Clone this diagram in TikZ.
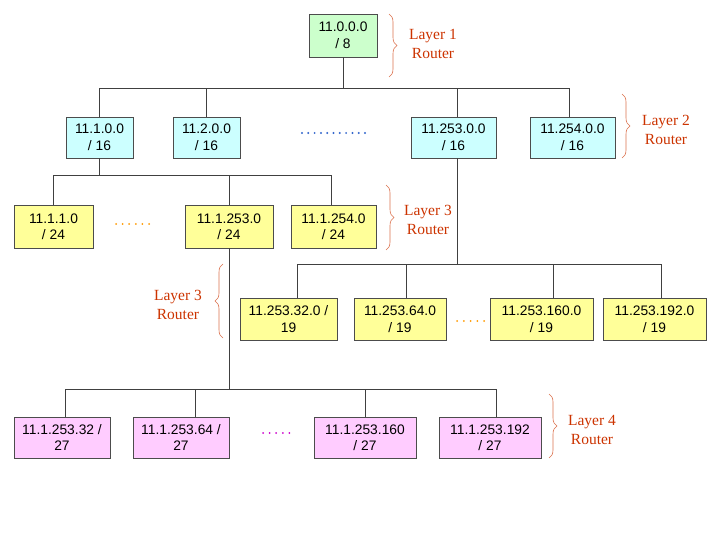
\documentclass[tikz,border=0pt]{standalone}
\usepackage{fontspec}
\setmainfont{Liberation Sans}
\newfontfamily\layerfont{Liberation Serif}
\usetikzlibrary{decorations.pathreplacing}

\definecolor{rootgreen}{RGB}{204,255,204}
\definecolor{netcyan}{RGB}{204,255,255}
\definecolor{subyellow}{RGB}{255,255,153}
\definecolor{hostpink}{RGB}{255,204,255}
\definecolor{layerred}{RGB}{204,51,0}
\definecolor{dotblue}{RGB}{51,102,204}
\definecolor{dotorange}{RGB}{255,153,0}
\definecolor{dotpink}{RGB}{204,0,204}

\tikzset{
  netbox/.style={draw=black!70, line width=0.6pt, align=center, inner sep=1pt,
    font=\fontsize{13.8}{16.5}\selectfont},
  wire/.style={draw=black!75, line width=0.6pt},
  layerbrace/.style={draw=layerred!70, line width=0.6pt, decorate,
    decoration={brace, amplitude=8pt}},
  layertext/.style={text=layerred, align=center,
    font=\layerfont\fontsize{15.5}{18.5}\selectfont}
}

\begin{document}
\begin{tikzpicture}[x=1pt, y=-1pt]
    \useasboundingbox (0,0) rectangle (720,540);

    % layer 1
    \node[netbox, fill=rootgreen, minimum width=68pt, minimum height=43pt] (root) at (343,35.5) {11.0.0.0\\/ 8};

    % layer 2
    \node[netbox, fill=netcyan, minimum width=67pt, minimum height=41pt] (net1) at (99.5,137.5) {11.1.0.0\\/ 16};
    \node[netbox, fill=netcyan, minimum width=67pt, minimum height=41pt] (net2) at (206.5,137.5) {11.2.0.0\\/ 16};
    \node[netbox, fill=netcyan, minimum width=85pt, minimum height=41pt] (net253) at (453.5,137.5) {11.253.0.0\\/ 16};
    \node[netbox, fill=netcyan, minimum width=85pt, minimum height=41pt] (net254) at (572.5,137.5) {11.254.0.0\\/ 16};
    \foreach \i in {0,...,10}
        \fill[dotblue] (302+6.3*\i,133) circle (1.1pt);

    % layer 3 under 11.1.0.0
    \node[netbox, fill=subyellow, minimum width=79pt, minimum height=43pt] (net1x1) at (53.5,226.5) {11.1.1.0\\/ 24};
    \node[netbox, fill=subyellow, minimum width=88pt, minimum height=43pt] (net1x253) at (229,226.5) {11.1.253.0\\/ 24};
    \node[netbox, fill=subyellow, minimum width=85pt, minimum height=43pt] (net1x254) at (333.5,226.5) {11.1.254.0\\/ 24};
    \foreach \i in {0,...,5}
        \fill[dotorange] (116+6.6*\i,224) circle (1pt);

    % layer 3 under 11.253.0.0
    \node[netbox, fill=subyellow, minimum width=97pt, minimum height=42pt] (sub32) at (288.5,319) {11.253.32.0 /\\19};
    \node[netbox, fill=subyellow, minimum width=92pt, minimum height=42pt] (sub64) at (400,319) {11.253.64.0\\/ 19};
    \node[netbox, fill=subyellow, minimum width=103pt, minimum height=42pt] (sub160) at (541.5,319) {11.253.160.0\\/ 19};
    \node[netbox, fill=subyellow, minimum width=103pt, minimum height=42pt] (sub192) at (654.5,319) {11.253.192.0\\/ 19};
    \foreach \i in {0,...,4}
        \fill[dotorange] (457+6.8*\i,321) circle (1pt);

    % layer 4
    \node[netbox, fill=hostpink, minimum width=96pt, minimum height=41pt] (host32) at (62,437.5) {11.1.253.32 /\\27};
    \node[netbox, fill=hostpink, minimum width=96pt, minimum height=41pt] (host64) at (181,437.5) {11.1.253.64 /\\27};
    \node[netbox, fill=hostpink, minimum width=102pt, minimum height=41pt] (host160) at (365,437.5) {11.1.253.160\\/ 27};
    \node[netbox, fill=hostpink, minimum width=102pt, minimum height=41pt] (host192) at (490,437.5) {11.1.253.192\\/ 27};
    \foreach \i in {0,...,4}
        \fill[dotpink] (263+6.6*\i,433) circle (1pt);

    % wire ends that sit off the box centres
    \coordinate (in253) at ([xshift=3.5pt]net253.north);
    \coordinate (out253) at ([xshift=3.5pt]net253.south);
    \coordinate (in254) at ([xshift=-3.5pt]net254.north);
    \coordinate (in1x254) at ([xshift=-2.5pt]net1x254.north);
    \coordinate (in32) at ([xshift=8.5pt]sub32.north);
    \coordinate (in64) at ([xshift=6pt]sub64.north);
    \coordinate (in160) at ([xshift=11.5pt]sub160.north);
    \coordinate (in192) at ([xshift=6.5pt]sub192.north);
    \coordinate (inh32) at ([xshift=3pt]host32.north);
    \coordinate (inh64) at ([xshift=14pt]host64.north);
    \coordinate (inh192) at ([xshift=6pt]host192.north);

    % buses
    \path (root.south) ++(0,31) coordinate (bus1);
    \path (net1.south) ++(0,17) coordinate (bus2);
    \path (out253) ++(0,106) coordinate (bus3);
    \path (net1x253.south) ++(0,141) coordinate (bus4);

    \draw[wire] (root.south) -- (bus1);
    \draw[wire] (net1.north) |- (in254 |- bus1) -- (in254);
    \draw[wire] (net2.north) -- (net2.north |- bus1);
    \draw[wire] (in253) -- (in253 |- bus1);

    \draw[wire] (net1.south) -- (bus2);
    \draw[wire] (net1x1.north) |- (in1x254 |- bus2) -- (in1x254);
    \draw[wire] (net1x253.north) -- (net1x253.north |- bus2);

    \draw[wire] (out253) -- (bus3);
    \draw[wire] (in32) |- (in192 |- bus3) -- (in192);
    \draw[wire] (in64) -- (in64 |- bus3);
    \draw[wire] (in160) -- (in160 |- bus3);

    \draw[wire] (net1x253.south) -- (bus4);
    \draw[wire] (inh32) |- (inh192 |- bus4) -- (inh192);
    \draw[wire] (inh64) -- (inh64 |- bus4);
    \draw[wire] (host160.north) -- (host160.north |- bus4);

    % layer labels
    \draw[layerbrace] (389,14) -- (389,77);
    \node[layertext] (lab1) at (433,44) {Layer 1\\Router};
    \draw[layerbrace] (622,94) -- (622,158);
    \node[layertext] (lab2) at (666,130) {Layer 2\\Router};
    \draw[layerbrace] (386,185) -- (386,250);
    \node[layertext] (lab3a) at (428,220) {Layer 3\\Router};
    \draw[layerbrace] (223,338) -- (223,264);
    \node[layertext] (lab3b) at (178,305) {Layer 3\\Router};
    \draw[layerbrace] (549,394) -- (549,458);
    \node[layertext] (lab4) at (592,430) {Layer 4\\Router};
\end{tikzpicture}
\end{document}
